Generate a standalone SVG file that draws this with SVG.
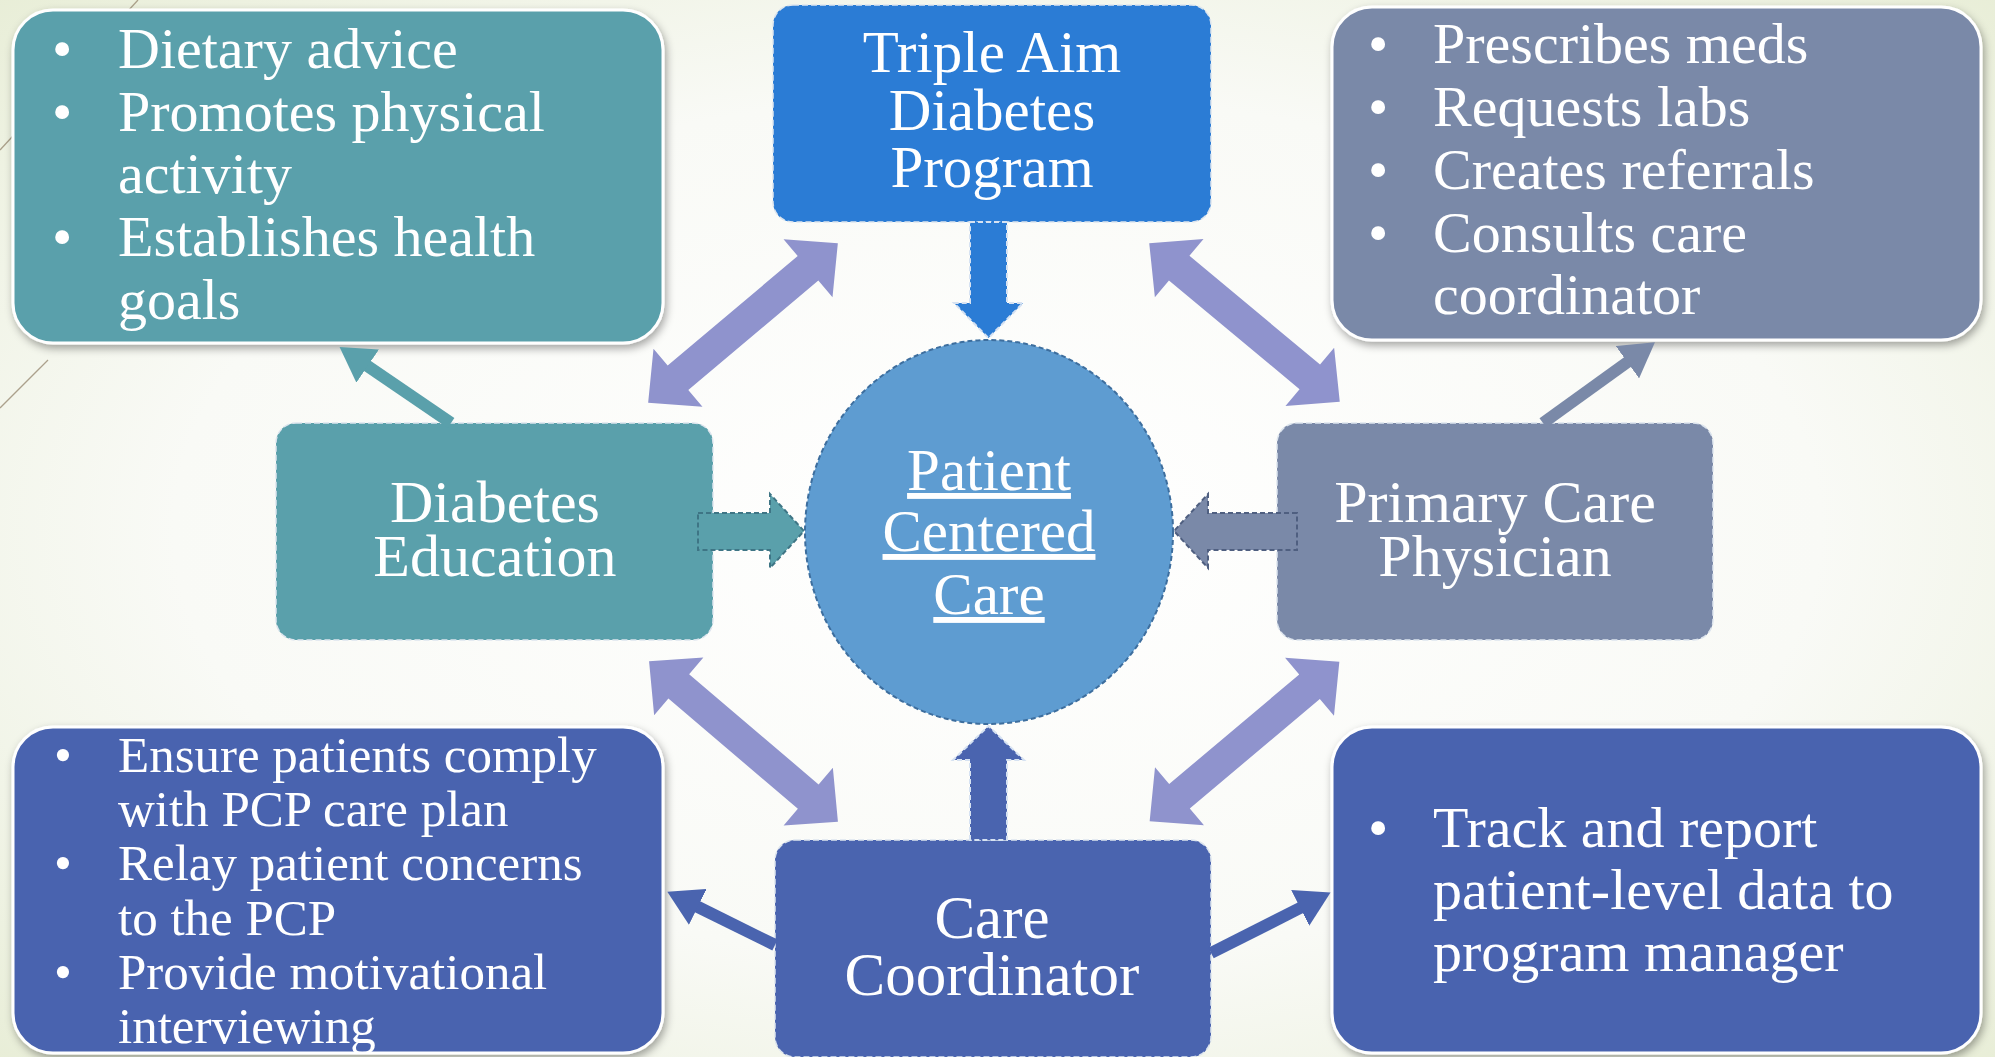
<svg xmlns="http://www.w3.org/2000/svg" xmlns:xlink="http://www.w3.org/1999/xlink" width="1995" height="1057" viewBox="0 0 1995 1057">
<defs>
<radialGradient id="bg" cx="50%" cy="50%" r="75%">
<stop offset="0" stop-color="#ffffff"/>
<stop offset="0.55" stop-color="#f9faf6"/>
<stop offset="1" stop-color="#e6ecd3"/>
</radialGradient>
<filter id="sh" x="-10%" y="-10%" width="120%" height="125%">
<feDropShadow dx="2" dy="4" stdDeviation="4" flood-color="#000" flood-opacity="0.35"/>
</filter>
<path id="dbl" d="M-124,0 L-85,-38 L-85,-16 L85,-16 L85,-38 L124,0 L85,38 L85,16 L-85,16 L-85,38 Z"/>
<marker id="ah-teal" viewBox="0 0 34 40" refX="2" refY="20" markerWidth="34" markerHeight="40" markerUnits="userSpaceOnUse" orient="auto"><path d="M0,0 L34,20 L0,40 Z" fill="#5aa0ab"/></marker>
<marker id="ah-slate" viewBox="0 0 34 40" refX="2" refY="20" markerWidth="34" markerHeight="40" markerUnits="userSpaceOnUse" orient="auto"><path d="M0,0 L34,20 L0,40 Z" fill="#7a89a8"/></marker>
<marker id="ah-navy" viewBox="0 0 34 40" refX="2" refY="20" markerWidth="34" markerHeight="40" markerUnits="userSpaceOnUse" orient="auto"><path d="M0,0 L34,20 L0,40 Z" fill="#4a64af"/></marker>
<style>
.info { stroke:#ffffff; stroke-width:3; filter:url(#sh); }
.node { stroke:#dde5ee; stroke-width:1.5; stroke-dasharray:6 3; }
.t { font-family:"Liberation Serif","Times New Roman",serif; fill:#ffffff; }
.c { text-anchor:middle; }
.i58 { font-size:58px; }
.i51 { font-size:51px; }
.n60 { font-size:60px; }
.dbl { fill:#8f93cd; }
.conn { fill:none; stroke-width:12; }
.fat { stroke-width:2; stroke-dasharray:5 3; }
</style>
</defs>

<rect x="0" y="0" width="1995" height="1057" fill="url(#bg)"/>
<g id="decor" stroke="#9a8c74" stroke-width="1.3" fill="none" opacity="0.8">
<line x1="138" y1="0" x2="0" y2="150"/>
<line x1="48" y1="360" x2="0" y2="408"/>
</g>

<g id="info-diet">
<rect class="info" x="13" y="10" width="650" height="333" rx="40" fill="#5aa0ab"/>
<text class="t i58"><tspan x="52" y="68">•</tspan><tspan x="118" y="68">Dietary advice</tspan></text>
<text class="t i58"><tspan x="52" y="131">•</tspan><tspan x="118" y="131">Promotes physical</tspan></text>
<text class="t i58" x="118" y="193">activity</text>
<text class="t i58"><tspan x="52" y="256">•</tspan><tspan x="118" y="256">Establishes health</tspan></text>
<text class="t i58" x="118" y="319">goals</text>
</g>

<g id="info-pcp">
<rect class="info" x="1332" y="7" width="649" height="333" rx="40" fill="#7a89a8"/>
<text class="t i58"><tspan x="1368" y="63">•</tspan><tspan x="1433" y="63">Prescribes meds</tspan></text>
<text class="t i58"><tspan x="1368" y="126">•</tspan><tspan x="1433" y="126">Requests labs</tspan></text>
<text class="t i58"><tspan x="1368" y="189">•</tspan><tspan x="1433" y="189">Creates referrals</tspan></text>
<text class="t i58"><tspan x="1368" y="252">•</tspan><tspan x="1433" y="252">Consults care</tspan></text>
<text class="t i58" x="1433" y="314">coordinator</text>
</g>

<g id="info-cc-left">
<rect class="info" x="13" y="727" width="650" height="326" rx="40" fill="#4a64af"/>
<text class="t i51"><tspan x="54" y="772">•</tspan><tspan x="118" y="772">Ensure patients comply</tspan></text>
<text class="t i51" x="118" y="826">with PCP care plan</text>
<text class="t i51"><tspan x="54" y="880">•</tspan><tspan x="118" y="880">Relay patient concerns</tspan></text>
<text class="t i51" x="118" y="935">to the PCP</text>
<text class="t i51"><tspan x="54" y="989">•</tspan><tspan x="118" y="989">Provide motivational</tspan></text>
<text class="t i51" x="118" y="1043">interviewing</text>
</g>

<g id="info-cc-right">
<rect class="info" x="1332" y="727" width="649" height="326" rx="40" fill="#4a64af"/>
<text class="t i58"><tspan x="1368" y="847">•</tspan><tspan x="1433" y="847">Track and report</tspan></text>
<text class="t i58" x="1433" y="909">patient-level data to</text>
<text class="t i58" x="1433" y="971">program manager</text>
</g>

<g id="node-triple-aim">
<rect class="node" x="773" y="5" width="438" height="217" rx="20" fill="#2b7cd5"/>
<text class="t c" font-size="59"><tspan x="992" y="72">Triple Aim</tspan><tspan x="992" y="130">Diabetes</tspan><tspan x="992" y="187">Program</tspan></text>
</g>

<g id="node-diabetes-education">
<rect class="node" x="276" y="423" width="437" height="217" rx="20" fill="#5aa0ab"/>
<text class="t c n60"><tspan x="495" y="522">Diabetes</tspan><tspan x="495" y="576">Education</tspan></text>
</g>

<g id="node-pcp">
<rect class="node" x="1277" y="423" width="436" height="217" rx="20" fill="#7a89a8"/>
<text class="t c n60"><tspan x="1495" y="522">Primary Care</tspan><tspan x="1495" y="576">Physician</tspan></text>
</g>

<g id="node-care-coordinator">
<rect class="node" x="775" y="840" width="436" height="217" rx="20" fill="#4a64af"/>
<text class="t c" font-size="61"><tspan x="992" y="938">Care</tspan><tspan x="992" y="995">Coordinator</tspan></text>
</g>

<g id="node-patient-centered-care">
<ellipse cx="989" cy="532" rx="184" ry="192" fill="#5e9cd1" stroke="#3d6e9e" stroke-width="2" stroke-dasharray="5 3"/>
<text class="t c" font-size="59" text-decoration="underline"><tspan x="989" y="490">Patient</tspan><tspan x="989" y="551">Centered</tspan><tspan x="989" y="614">Care</tspan></text>
</g>

<g id="connectors">
<use xlink:href="#dbl" class="dbl" transform="translate(743,323) rotate(-40.1)"/>
<use xlink:href="#dbl" class="dbl" transform="translate(1244.5,322.5) rotate(39.8)"/>
<use xlink:href="#dbl" class="dbl" transform="translate(743.5,741.5) rotate(40.4)"/>
<use xlink:href="#dbl" class="dbl" transform="translate(1244.5,741.5) rotate(-40.1)"/>

<path class="fat" d="M970,222 L1007,222 L1007,303 L1023,303 L988.5,338 L954,303 L970,303 Z" fill="#2b7cd5" stroke="#d6e2f2"/>
<path class="fat" d="M970,840 L970,760 L953,760 L988.5,726 L1024,760 L1007,760 L1007,840 Z" fill="#4a64af" stroke="#d6e2f2"/>
<path class="fat" d="M698,513 L770,513 L770,494 L804,531 L770,568 L770,550 L698,550 Z" fill="#5aa0ab" stroke="#3e7585"/>
<path class="fat" d="M1297,513 L1208,513 L1208,494 L1174,531 L1208,568 L1208,550 L1297,550 Z" fill="#7a89a8" stroke="#4f5f80"/>

<path class="conn" d="M451,423 L366,365" stroke="#5aa0ab" marker-end="url(#ah-teal)"/>
<path class="conn" d="M1543,423 L1629,361" stroke="#7a89a8" marker-end="url(#ah-slate)"/>
<path class="conn" d="M775,945 L696,906" stroke="#4a64af" marker-end="url(#ah-navy)"/>
<path class="conn" d="M1211,953 L1302,907" stroke="#4a64af" marker-end="url(#ah-navy)"/>
</g>
</svg>
